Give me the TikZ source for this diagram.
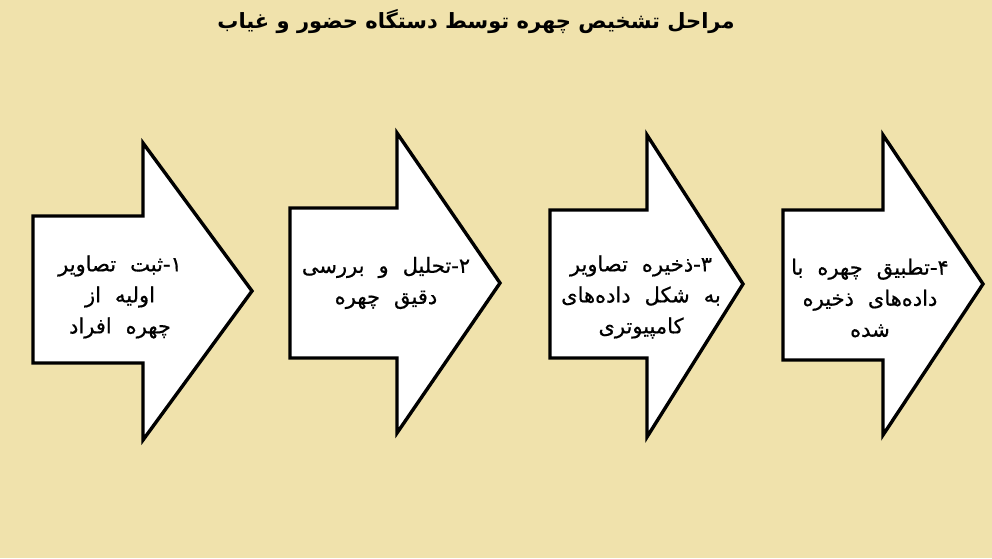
\documentclass[tikz,border=0pt]{standalone}
\usepackage{fontspec}
\TeXXeTstate=1
\newfontfamily\arabicfont[Script=Arabic,FakeBold=0.6]{DejaVu Sans}
\newfontfamily\titlefont[Script=Arabic]{DejaVu Sans}
\newcommand\widespace{\spaceskip=14pt plus 3pt\relax}
\definecolor{bgcol}{RGB}{240,226,172}
\tikzset{
  steparrow/.style={draw=black,fill=white,line width=3.4pt,line join=miter},
  steptext/.style={align=center,font=\arabicfont\fontsize{21}{31}\selectfont\widespace,inner sep=0pt}
}
\begin{document}
\begin{tikzpicture}[x=1pt,y=-1pt]
\useasboundingbox (0,0) rectangle (992,558);
\fill[bgcol] (0,0) rectangle (992,558);
\node[font=\titlefont\bfseries\fontsize{21}{24}\selectfont] (title) at (476,22) {\beginR مراحل تشخیص چهره توسط دستگاه حضور و غیاب\endR};
\draw[steparrow] (33,216) -- (143,216) -- (143,143) -- (252,291) -- (143,440) -- (143,363) -- (33,363) -- cycle;
\draw[steparrow] (290,208) -- (397,208) -- (397,133) -- (500,283) -- (397,433) -- (397,358) -- (290,358) -- cycle;
\draw[steparrow] (550,210) -- (647,210) -- (647,135) -- (743,284) -- (647,437) -- (647,358) -- (550,358) -- cycle;
\draw[steparrow] (783,210) -- (883,210) -- (883,135) -- (983,284) -- (883,435) -- (883,360) -- (783,360) -- cycle;
\node[steptext] (s1) at (120,297) {\beginR ۱-ثبت تصاویر\endR\\\beginR اولیه از\endR\\\beginR چهره افراد\endR};
\node[steptext] (s2) at (386,283) {\beginR ۲-تحلیل و بررسی\endR\\\beginR دقیق چهره\endR};
\node[steptext] (s3) at (641,297) {\beginR ۳-ذخیره تصاویر\endR\\\beginR به شکل داده‌های\endR\\\beginR کامپیوتری\endR};
\node[steptext] (s4) at (870,298) {\beginR ۴-تطبیق چهره با\endR\\\beginR داده‌های ذخیره\endR\\\beginR شده\endR};
\end{tikzpicture}
\end{document}
